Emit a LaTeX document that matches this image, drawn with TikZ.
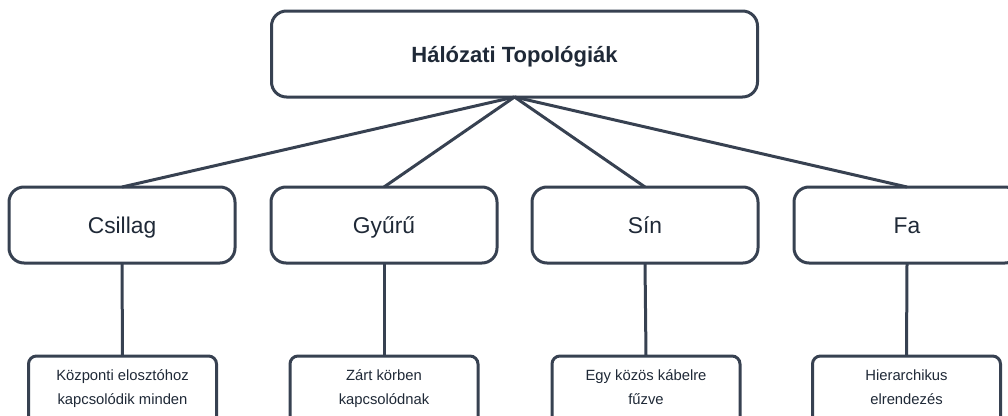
\documentclass[tikz,border=0pt]{standalone}
\usepackage{fontspec}
\setmainfont{Liberation Sans}
\definecolor{edge}{HTML}{374151}
\definecolor{ink}{HTML}{1F2937}
\begin{document}
\begin{tikzpicture}[x=1pt,y=-1pt,
  every node/.style={inner sep=0pt,outer sep=0pt},
  rootbox/.style={draw=edge,line width=3pt,rounded corners=15pt,fill=white,minimum width=486pt,minimum height=86pt,text=ink,text height=16pt,text depth=0pt,font=\fontsize{22}{26}\selectfont\bfseries},
  topicbox/.style={draw=edge,line width=3pt,rounded corners=15pt,fill=white,minimum width=226pt,minimum height=76pt,text=ink,text height=16.5pt,text depth=0pt,font=\fontsize{22.8}{27}\selectfont},
  descbox/.style={draw=edge,line width=3pt,rounded corners=8pt,fill=white,minimum width=188pt,minimum height=70pt,text=ink,align=center,text depth=7pt,font=\fontsize{14.8}{24}\selectfont},
  link/.style={draw=edge,line width=3pt}]
\useasboundingbox (0,0) rectangle (1008,415);
\clip (0,0) rectangle (1008,415);
\node[rootbox] (root) at (514.5,54) {Hálózati Topológiák};
\node[topicbox] (t1) at (122,225) {Csillag};
\node[topicbox] (t2) at (384,225) {Gyűrű};
\node[topicbox] (t3) at (645,225) {Sín};
\node[topicbox] (t4) at (907,225) {Fa};
\node[descbox] (d1) at (122.5,391) {Központi elosztóhoz\\kapcsolódik minden};
\node[descbox] (d2) at (384,391) {Zárt körben\\kapcsolódnak};
\node[descbox] (d3) at (646,391) {Egy közös kábelre\\fűzve};
\node[descbox] (d4) at (906.5,391) {Hierarchikus\\elrendezés};
\foreach \i in {1,2,3,4}{
  \draw[link] (root.south) -- (t\i.north);
  \draw[link] (t\i.south) -- (d\i.north);
}
\end{tikzpicture}
\end{document}
